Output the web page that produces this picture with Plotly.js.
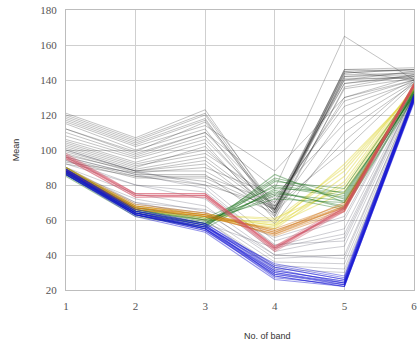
<!DOCTYPE html>
<html><head><meta charset="utf-8">
<script src="https://cdn.plot.ly/plotly-3.0.1.min.js"></script>
<style>html,body{margin:0;padding:0;background:#fff}#chart{width:417px;height:346px}</style>
</head><body><div id="chart"></div>
<script>
const bands = [1, 2, 3, 4, 5, 6];
const yTicks = [20, 40, 60, 80, 100, 120, 140, 160, 180];

const grayUpper = [
  [121,107,123,66,146,147],[120,106,121,68,145,146],[119,105,120,65,144,146],
  [118,104,118,64,146,145],[117,103,117,67,143,144],[115,100,112,62,142,143],
  [112,99,116,66,140,145],[110,97,110,70,138,142],[108,96,108,64,145,140],
  [106,95,106,66,141,141],[105,93,104,60,136,143],[104,92,100,68,130,140],
  [103,91,98,72,125,139],[102,90,102,63,144,146],[101,89,96,66,140,142],
  [100,88,94,65,120,140],[99,88,92,62,135,141],[98,87,90,74,115,139],
  [97,88,88,66,142,144],[96,86,86,58,110,138],[95,85,85,70,128,140],
  [94,84,84,66,138,143],[93,87,82,64,105,139],[92,85,80,68,100,138],
  [112,98,110,78,165,140],[116,102,114,88,130,142]
];
const grayLower = [
  [100,88,80,48,60,134],[96,86,78,45,55,133],[92,80,72,42,50,132],
  [90,75,68,40,45,131],[88,72,65,38,40,130],[90,70,62,36,35,130],
  [88,68,60,34,32,129],[86,66,58,44,52,132],[88,70,66,50,62,134],
  [94,80,76,46,48,132],[87,67,60,32,30,129],[89,69,64,40,38,131]
];
const greenLines = [
  [86,63,56,86,70,132],[87,64,57,83,72,133],[88,65,58,80,74,134],
  [86,63,55,78,76,131],[89,66,59,76,68,133],[87,64,58,74,66,130],
  [85,62,56,82,78,135],[88,65,60,72,70,132],[90,67,61,79,73,134],
  [86,64,57,77,67,131],[87,65,58,84,75,133],[89,66,60,75,71,132]
];
const yellowLines = [
  [89,67,62,58,80,135],[88,66,61,56,85,136],[90,68,63,60,90,134],
  [88,67,62,57,76,135],[89,66,61,55,82,136],[87,66,60,59,88,134],
  [90,68,63,61,78,135],[88,67,62,57,92,133]
];
const orangeLines = [
  [88,67,63,54,68,137],[89,68,64,53,67,138],[88,67,62,52,66,137],
  [87,66,62,55,69,136],[89,68,63,51,65,138],[88,67,63,53,70,137],
  [90,69,64,54,67,137],[88,66,62,52,68,136]
];
const redLines = [
  [97,75,75,44,67,137],[96,74,74,43,66,137],[98,75,75,45,68,138],
  [95,73,73,42,65,136],[96,74,74,44,66,137],[97,74,73,43,67,138],
  [95,73,74,45,65,136],[96,75,75,44,67,137]
];
const blueLines = [
  [88,64,56,30,24,130],[87,63,55,29,23,129],[86,63,54,28,22,128],
  [89,65,57,31,25,131],[88,64,56,33,26,131],[87,64,55,27,23,129],
  [86,62,53,26,22,127],[88,65,57,32,24,130],[89,65,58,34,27,132],
  [87,63,54,29,24,128],[88,64,55,30,23,129],[86,63,56,35,28,131],
  [87,64,57,28,22,128],[88,63,55,31,25,130],[89,66,58,33,26,131]
];

const groups = [
  {lines: grayUpper, color: 'rgba(40,40,40,0.28)', width: 1},
  {lines: grayLower, color: 'rgba(60,60,80,0.25)', width: 1},
  {lines: yellowLines, color: 'rgba(225,215,60,0.45)', width: 1.2},
  {lines: greenLines, color: 'rgba(20,110,20,0.4)', width: 1.1},
  {lines: orangeLines, color: 'rgba(205,110,10,0.4)', width: 1.2},
  {lines: redLines, color: 'rgba(210,80,100,0.4)', width: 1.2},
  {lines: blueLines, color: 'rgba(20,20,210,0.45)', width: 1.1}
];

const traces = [];
groups.forEach(g => g.lines.forEach(vals => traces.push({
  type: 'scatter', mode: 'lines', x: bands, y: vals,
  line: {color: g.color, width: g.width}, hoverinfo: 'skip', showlegend: false
})));

const layout = {
  width: 417, height: 346,
  margin: {l: 66, r: 3, t: 10, b: 56},
  paper_bgcolor: '#fff', plot_bgcolor: '#fff',
  showlegend: false,
  xaxis: {
    range: [1, 6], tickvals: bands, ticktext: bands.map(String),
    showgrid: true, gridcolor: '#cfcfcf', gridwidth: 1,
    zeroline: false, showline: true, linecolor: '#bdbdbd', mirror: true,
    ticks: '', ticklabelstandoff: 6, ticklabeloverflow: 'allow',
    tickfont: {family: 'Liberation Serif, serif', size: 11, color: '#555'}
  },
  yaxis: {
    range: [20, 180], tickvals: yTicks,
    showgrid: true, gridcolor: '#cfcfcf', gridwidth: 1,
    zeroline: false, showline: true, linecolor: '#bdbdbd', mirror: true,
    ticks: '', ticklabelstandoff: 6,
    tickfont: {family: 'Liberation Serif, serif', size: 11, color: '#555'},
    title: {text: 'Mean', font: {family: 'Liberation Sans, Arial, sans-serif', size: 9, color: '#333'}, standoff: 19}
  },
  annotations: [{
    text: 'No. of band', xref: 'paper', yref: 'paper', x: 0.578, y: -0.165,
    xanchor: 'center', yanchor: 'middle', showarrow: false,
    font: {family: 'Liberation Sans, Arial, sans-serif', size: 9, color: '#333'}
  }]
};
Plotly.newPlot('chart', traces, layout, {staticPlot: true, displayModeBar: false});
</script></body></html>
